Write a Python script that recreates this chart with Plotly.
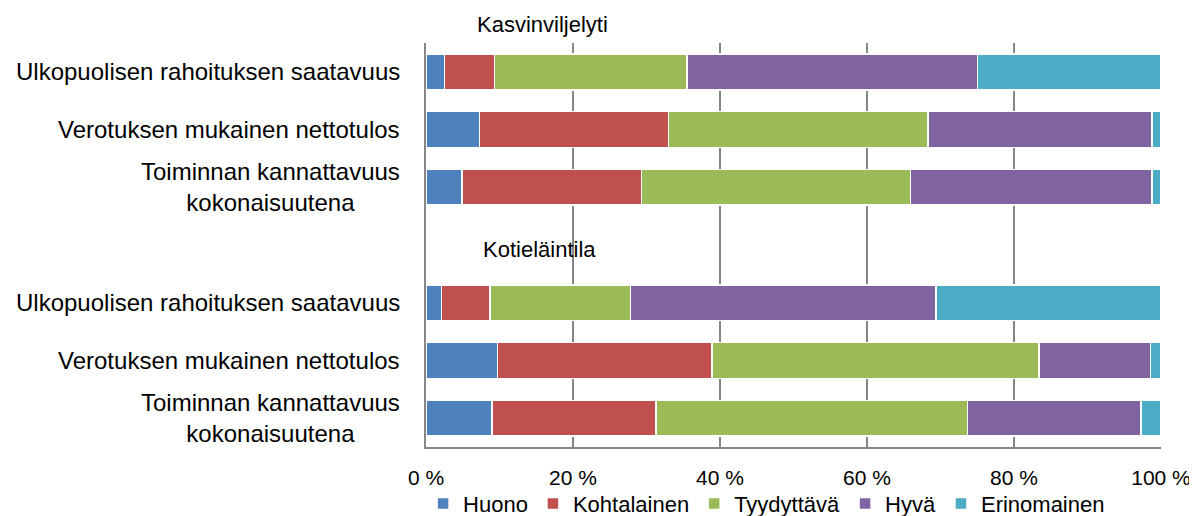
import plotly.graph_objects as go

# Data (percent of answers)
groups = ["Kasvinviljelyti", "Kotieläintila"]
items = [
    "Ulkopuolisen rahoituksen saatavuus",
    "Verotuksen mukainen nettotulos",
    "Toiminnan kannattavuus<br>kokonaisuutena",
]
ratings = ["Huono", "Kohtalainen", "Tyydyttävä", "Hyvä", "Erinomainen"]
colors = ["#4F81BD", "#C0504D", "#9BBB59", "#8064A2", "#4BACC6"]

# rows: items in order, one list per rating
kasvi = {
    "Huono": [2.5, 7.3, 4.9],
    "Kohtalainen": [6.8, 25.7, 24.4],
    "Tyydyttävä": [26.2, 35.3, 36.6],
    "Hyvä": [39.5, 30.5, 32.9],
    "Erinomainen": [25.0, 1.2, 1.2],
}
kotielain = {
    "Huono": [2.1, 9.7, 9.0],
    "Kohtalainen": [6.6, 29.2, 22.3],
    "Tyydyttävä": [19.1, 44.5, 42.4],
    "Hyvä": [41.6, 15.2, 23.6],
    "Erinomainen": [30.6, 1.4, 2.7],
}

FONT = "Liberation Sans"

# row positions: group 1 rows, one blank row, group 2 rows
rows1 = list(range(len(items)))
rows2 = [len(items) + 1 + i for i in range(len(items))]
n_rows = 2 * len(items) + 1

fig = go.Figure()
for rating, color in zip(ratings, colors):
    fig.add_trace(go.Bar(
        name=rating,
        y=rows1 + rows2,
        x=kasvi[rating] + kotielain[rating],
        orientation='h',
        width=0.62,
        marker=dict(color=color, line=dict(color='white', width=1.5)),
    ))

annotations = []
for r, label in zip(rows1 + rows2, items + items):
    annotations.append(dict(
        x=0, xref='paper', y=r, yref='y', text=label,
        xanchor='right', yanchor='middle', xshift=-24, align='center',
        showarrow=False, font=dict(size=24, color='black', family=FONT),
    ))
# group titles
annotations.append(dict(
    x=0.159, xref='paper', y=1.045, yref='paper', text=groups[0],
    xanchor='center', yanchor='middle', showarrow=False,
    font=dict(size=22, color='black', family=FONT),
))
annotations.append(dict(
    x=0.154, xref='paper', y=len(items), yref='y', text=groups[1],
    xanchor='center', yanchor='middle', yshift=-4, showarrow=False,
    font=dict(size=22, color='black', family=FONT),
))

# the page body has an 8px margin, so the figure is 8px smaller than the window
fig.update_layout(
    barmode='stack',
    width=1189,
    height=508,
    margin=dict(l=418, r=36, t=35, b=69, autoexpand=False),
    plot_bgcolor='white',
    paper_bgcolor='white',
    font=dict(family=FONT, size=23, color='black'),
    annotations=annotations,
    legend=dict(
        orientation='h', xref='container', x=0.638, xanchor='center',
        yref='container', y=0.024, yanchor='middle',
        font=dict(size=22, family=FONT), itemwidth=30, traceorder='normal',
        bgcolor='rgba(0,0,0,0)',
    ),
    xaxis=dict(
        range=[0, 100], tickvals=[0, 20, 40, 60, 80, 100],
        ticktext=["0 %", "20 %", "40 %", "60 %", "80 %", "100 %"],
        showgrid=True, gridcolor='#868686', gridwidth=2,
        showline=True, linecolor='#868686', linewidth=2, mirror=False,
        zeroline=False, ticks='', ticklabelstandoff=11, automargin=False,
        tickfont=dict(size=21, family=FONT),
    ),
    yaxis=dict(
        range=[n_rows - 0.5, -0.5], automargin=False,
        showticklabels=False, showgrid=False, zeroline=False,
        showline=True, linecolor='#868686', linewidth=2, ticks='',
    ),
)

fig.write_html("out.html")
